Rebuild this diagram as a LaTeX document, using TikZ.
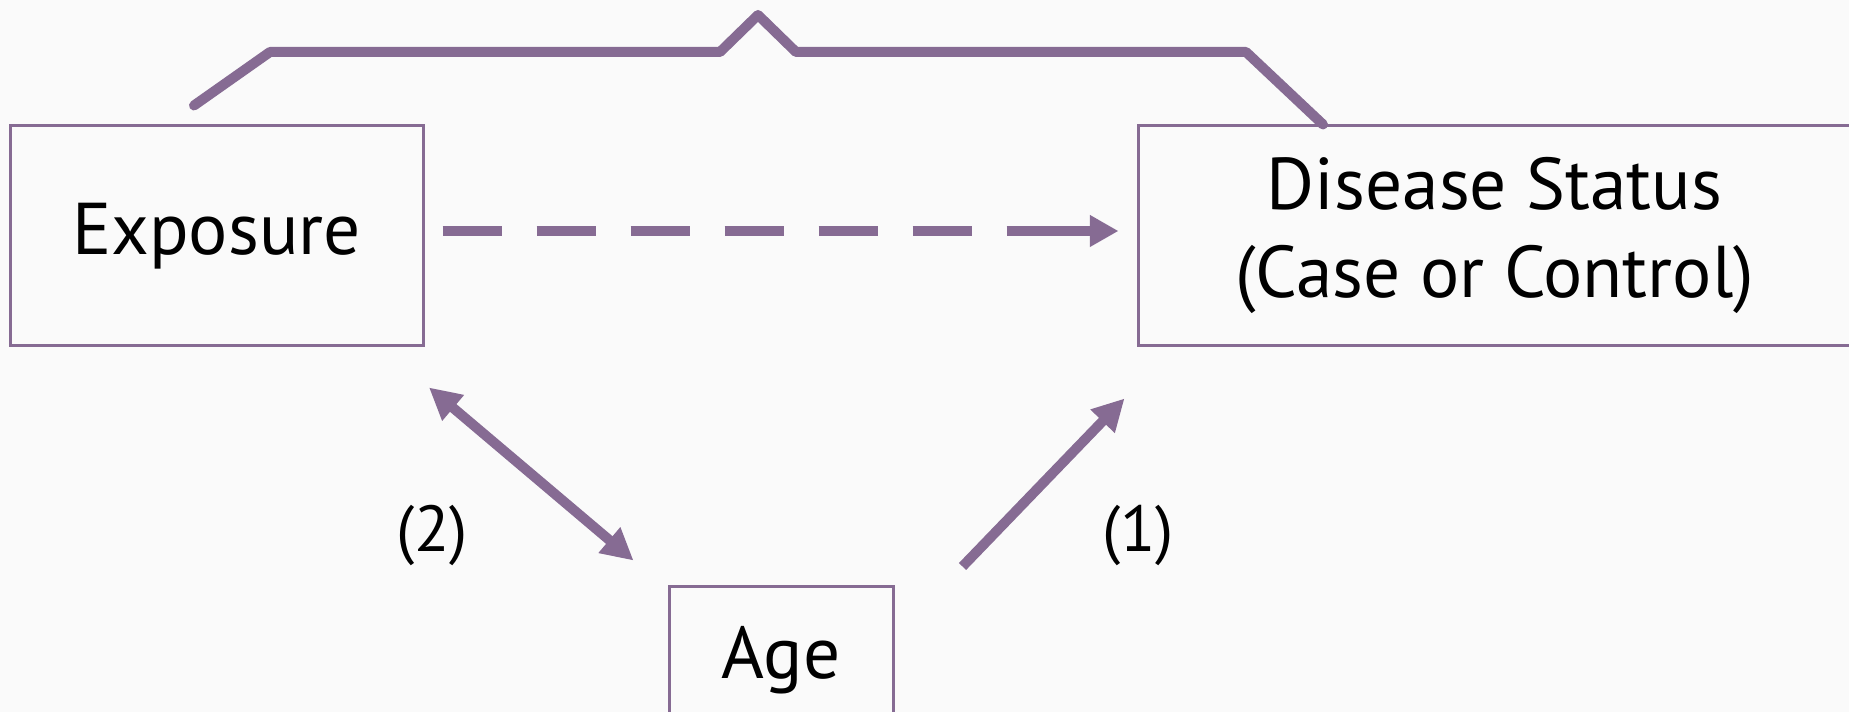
\documentclass[tikz,border=0pt]{standalone}
\usepackage{fontspec}
\setmainfont{PT Sans}
\usetikzlibrary{arrows.meta,calc}
\definecolor{plum}{HTML}{866B93}
\definecolor{paper}{HTML}{FAFAFA}
\tikzset{
  box/.style={draw=plum, line width=0.9pt, inner sep=0pt, align=center,
    font=\fontsize{22}{26.5}\selectfont},
  link/.style={draw=plum, line width=3pt},
  tipA/.style={-{Triangle[length=9.5pt,width=9.5pt]}},
  tipAB/.style={{Triangle[length=9.5pt,width=9.5pt]}-{Triangle[length=9.5pt,width=9.5pt]}},
  tipDash/.style={-{Triangle[length=8.6pt,width=9pt]}},
  tag/.style={font=\fontsize{19.5}{24}\selectfont, inner sep=0pt}
}
\begin{document}
\begin{tikzpicture}[x=0.3pt,y=-0.3pt]
  \fill[paper] (0,0) rectangle (1849,712);
  \useasboundingbox (0,0) rectangle (1849,712);
  \clip (0,0) rectangle (1849,712);

  % the three variables
  \node[box, minimum width=123.9pt, minimum height=66pt] (expo) at (216.5,236)
    {\raisebox{-1pt}{Exposure}};
  \node[box, minimum width=213.9pt, minimum height=66pt] (dis) at (1494.5,236)
    {\raisebox{-1pt}{\begin{tabular}{@{}c@{}}Disease Status\\(Case or Control)\end{tabular}}};
  \node[box, minimum width=67.2pt, minimum height=43.8pt] (age) at (781,660)
    {\raisebox{-1pt}{Age}};

  % bracket spanning exposure and outcome
  \coordinate (bs) at ($(expo.north)+(-22.5,-19)$);
  \coordinate (be) at ($(dis.north)+(-171.5,0)$);
  \draw[link, line join=round, line cap=round] (bs) -- (270,52) -- (720,52) -- (758,15)
    -- (796,52) -- (1246,52) -- (be);

  % dashed exposure -> outcome arrow
  \coordinate (ds) at ($(expo.east)+(18,-5)$);
  \coordinate (de) at ($(dis.west)+(-18,-5)$);
  \draw[link, tipDash, dash pattern=on 17.7pt off 10.5pt on 17.7pt off 10.5pt
    on 17.7pt off 10.5pt on 17.7pt off 10.5pt on 17.7pt off 10.5pt
    on 17.7pt off 10.5pt on 120pt off 1pt] (ds) -- (de);

  % age relations
  \coordinate (a1) at ($(expo.south east)+(4.5,40)$);
  \coordinate (a2) at ($(age.north west)+(-34,-25)$);
  \draw[link, tipAB] (a1) -- (a2);
  \coordinate (b1) at ($(age.north east)+(68,-19)$);
  \coordinate (b2) at ($(dis.south west)+(-12,51)$);
  \draw[link, tipA] (b1) -- (b2);

  \node[tag] (l2) at (432,536) {(2)};
  \node[tag] (l1) at (1138,536) {(1)};
\end{tikzpicture}
\end{document}
